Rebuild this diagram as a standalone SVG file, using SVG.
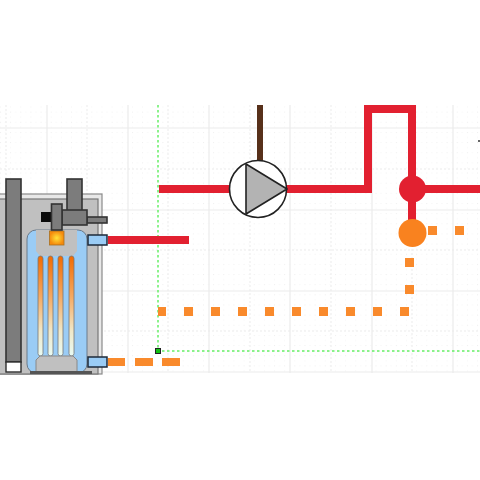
<svg xmlns="http://www.w3.org/2000/svg" width="480" height="480" viewBox="0 0 480 480">
<defs>
<linearGradient id="tube" x1="0" y1="0" x2="0" y2="1"><stop offset="0" stop-color="#f26a00"/><stop offset="0.4" stop-color="#f5a860"/><stop offset="0.75" stop-color="#f0e8c8"/><stop offset="1" stop-color="#e8fbf4"/></linearGradient>
<radialGradient id="flame"><stop offset="0" stop-color="#ffe23a"/><stop offset="1" stop-color="#f58a0c"/></radialGradient>
<pattern id="fine" width="10.15" height="10.15" patternUnits="userSpaceOnUse"><rect width="1" height="1" fill="#eeeeee"/><rect x="5" width="1" height="1" fill="#f5f5f5"/><rect y="5" width="1" height="1" fill="#f5f5f5"/></pattern>
</defs>
<style>
.minor{stroke:#ebebeb;stroke-width:1;stroke-dasharray:2 2;fill:none}
.major{stroke:#ececec;stroke-width:1.2;fill:none}
.guide{stroke:#66ee66;stroke-width:1.500;stroke-dasharray:2.500 2.500;fill:none}
.pipe{stroke:#e22030;stroke-width:8;fill:none}
.dash{fill:#f98a2c}
.metal{fill:#7c7c7c;stroke:#333;stroke-width:1.6}
.port{fill:#9accf5;stroke:#1c2a3a;stroke-width:1.5}
.tube{fill:url(#tube);stroke:#777;stroke-width:0.8}
</style>
<rect width="480" height="480" fill="#fff"/>
<g id="grid">
<rect y="105" width="480" height="268" fill="url(#fine)"/>
<path class="minor" d="M6 105V373M87 105V373M168 105V373M250 105V373M331 105V373M412 105V373M0 169H480M0 250H480M0 331H480"/>
<path class="major" d="M47 105V373M128 105V373M209 105V373M290 105V373M372 105V373M453 105V373M0 128H480M0 210H480M0 291H480M0 372H480"/>
</g>
<g id="guides"><path class="guide" d="M158 105V351H480"/></g>
<g id="connectors">
<path class="pipe" d="M108 240H189"/>
<path class="pipe" d="M159 189H230"/>
<path class="pipe" d="M286 189H368V109H412V233"/>
<path class="pipe" d="M412 189H480"/>
<path d="M260 105V162" fill="none" stroke="#57301a" stroke-width="6"/>
<g class="dash">
<rect x="108" y="358" width="17" height="8"/><rect x="135" y="358" width="18" height="8"/><rect x="162" y="358" width="18" height="8"/>
<rect x="158" y="307" width="8" height="9"/><rect x="184" y="307" width="9" height="9"/><rect x="211" y="307" width="9" height="9"/><rect x="238" y="307" width="9" height="9"/><rect x="265" y="307" width="9" height="9"/><rect x="292" y="307" width="9" height="9"/><rect x="319" y="307" width="9" height="9"/><rect x="346" y="307" width="9" height="9"/><rect x="373" y="307" width="9" height="9"/><rect x="400" y="307" width="9" height="9"/>
<rect x="405" y="285" width="9" height="9"/><rect x="405" y="258" width="9" height="9"/>
<rect x="428" y="226" width="9" height="9"/><rect x="455" y="226" width="9" height="9"/>
</g>
</g>
<g id="boiler">
<rect x="-2" y="194" width="104" height="180" fill="#e8e8e8" stroke="#8a8a8a" stroke-width="1.200"/>
<rect x="-2" y="199" width="100" height="175" fill="#c0c0c0" stroke="#777" stroke-width="1.200"/>
<rect class="metal" x="6" y="179" width="15" height="183"/>
<rect x="6" y="362" width="15" height="10" fill="#fff" stroke="#2e2e2e" stroke-width="1.400"/>
<rect x="27" y="230" width="60" height="143" rx="9" fill="#9accf5" stroke="#6a7a8a" stroke-width="1"/>
<path d="M36 230H77V251L73 256H40L36 251Z" fill="#c0c0c0"/>
<rect class="tube" x="38" y="256" width="5" height="100" rx="2.500"/>
<rect class="tube" x="48" y="256" width="5" height="100" rx="2.500"/>
<rect class="tube" x="58" y="256" width="5" height="100" rx="2.500"/>
<rect class="tube" x="69" y="256" width="5" height="100" rx="2.500"/>
<path d="M36 373V360L40 356H73L77 360V373Z" fill="#c0c0c0" stroke="#888"/>
<rect x="49.500" y="231" width="14.500" height="14" fill="url(#flame)" stroke="#a87020" stroke-width="0.800"/>
<rect class="metal" x="67" y="179" width="15" height="32"/>
<rect x="41" y="212" width="11" height="10" fill="#0a0a0a"/>
<rect class="metal" x="87" y="217" width="20" height="6"/>
<rect class="metal" x="62" y="210" width="25" height="15"/>
<rect class="metal" x="51.500" y="204" width="10.500" height="26"/>
<rect class="port" x="88" y="235" width="19" height="10"/>
<rect class="port" x="88" y="357" width="19" height="10"/>
<rect x="30" y="371" width="62" height="3" fill="#555"/>
</g>
<g id="pump">
<circle cx="258" cy="189" r="28.500" fill="#fff" stroke="#222" stroke-width="1.600"/>
<path d="M246 164L287 189L246 214Z" fill="#b3b3b3" stroke="#222" stroke-width="1.600" stroke-linejoin="round"/>
</g>
<g id="junction"><circle cx="412.500" cy="189" r="13.500" fill="#e22030"/></g>
<g id="source"><circle cx="412.500" cy="233" r="14" fill="#f9821f"/></g>
<g id="handle"><rect x="155.500" y="348.500" width="5" height="5" fill="#10c010" stroke="#222" stroke-width="1"/></g>
<rect x="478" y="140" width="2" height="2" fill="#666"/>
</svg>
